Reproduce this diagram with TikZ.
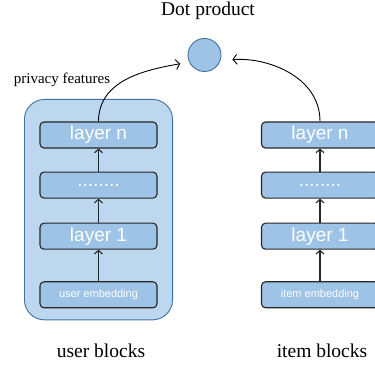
\documentclass[tikz,border=0pt]{standalone}
\usepackage{fontspec}
\setmainfont{Liberation Serif}
\setsansfont{Liberation Sans}
\usepackage{xcolor}
\usepackage{tikz}
\usetikzlibrary{arrows.meta,positioning,calc,fit,backgrounds}

\definecolor{boxblue}{HTML}{9DC3E6}
\definecolor{groupblue}{HTML}{BDD7EE}
\definecolor{edgeblue}{HTML}{41719C}

\begin{document}
\begin{tikzpicture}[
    x=1pt, y=1pt,
    layerbox/.style={
        rectangle, draw=black!85, line width=1.1pt,
        rounded corners=4pt,
        fill=boxblue,
        minimum width=117pt,
        minimum height=26pt,
        inner sep=0pt,
        text=white,
        font=\sffamily\fontsize{19}{21}\selectfont
    },
    embbox/.style={
        layerbox,
        font=\sffamily\fontsize{11}{13}\selectfont
    },
    groupbox/.style={
        rectangle, draw=edgeblue, line width=0.9pt,
        rounded corners=20pt,
        fill=groupblue,
        inner sep=0pt
    },
    dotnode/.style={
        circle, draw=edgeblue, line width=0.9pt,
        fill=boxblue,
        minimum size=33pt,
        inner sep=0pt
    },
    arr/.style={-{Straight Barb[length=3.5pt,width=8pt]}, line width=1.1pt, black!85},
    bigarr/.style={-{Straight Barb[length=4pt,width=10pt]}, line width=0.9pt, black},
    lbl/.style={font=\fontsize{15}{17}\selectfont},
    caption/.style={font=\fontsize{19.5}{22}\selectfont},
]

\clip (0,0) rectangle (375,366);

% user side
\node[layerbox] (uln) at (98.5,231) {layer n};
\node[layerbox, below=23pt of uln]  (udots) {........};
\node[layerbox, below=24pt of udots] (ul1) {layer 1};
\node[embbox,   below=31.5pt of ul1] (uemb) {user embedding};

% item side
\node[layerbox] (iln) at (320,231) {layer n};
\node[layerbox, below=23pt of iln]  (idots) {........};
\node[layerbox, below=24pt of idots] (il1) {layer 1};
\node[embbox,   below=31.5pt of il1] (iemb) {item embedding};

\begin{scope}[on background layer]
\node[groupbox, fit={($(uln.north west)+(-15,22)$) ($(uemb.south east)+(15,-11.5)$)}] (ugroup) {};
\end{scope}

\node[dotnode] (dot) at (204.5,311) {};

% labels
\node[caption] (dotlbl) at (208,355) {Dot product};
\node[lbl] (privlbl) at (62,286) {privacy features};
\node[caption] (ucap) at (101,15) {user blocks};
\node[caption] (icap) at (322,15) {item blocks};

% stacks
\draw[arr] (uemb) -- (ul1);
\draw[arr] (ul1) -- (udots);
\draw[arr] (udots) -- (uln);
\draw[arr] (iemb) -- (il1);
\draw[arr] (il1) -- (idots);
\draw[arr] (idots) -- (iln);

% into the dot product
\draw[bigarr, shorten >=9pt] (uln.north) to[out=90,in=190] (dot.205);
\draw[bigarr, shorten >=12pt] (iln.north) to[out=90,in=5] (dot.340);

\end{tikzpicture}
\end{document}
